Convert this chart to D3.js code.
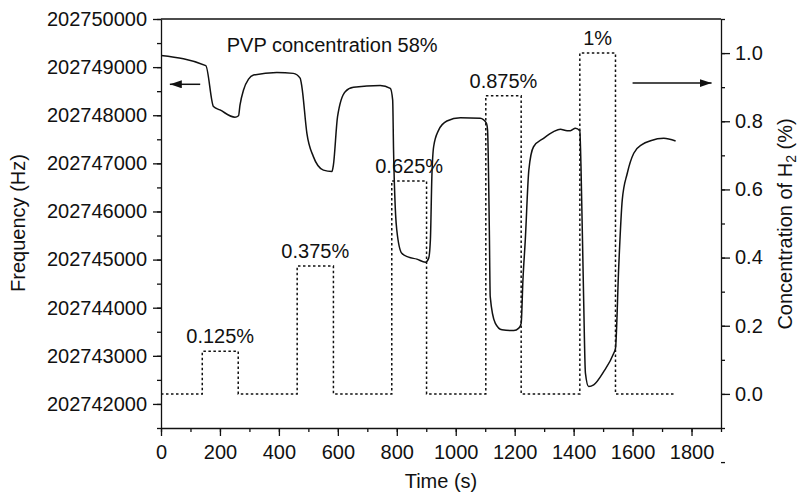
<!DOCTYPE html>
<html>
<head>
<meta charset="utf-8">
<script src="https://cdn.jsdelivr.net/npm/d3@7"></script>
<style>
    body { margin: 0; background: #fff; }
    text { font-family: "Liberation Sans", Arial, Helvetica, sans-serif; fill: #111; }
    .axis path, .axis line { stroke: #111; stroke-width: 1.3px; }
</style>
</head>
<body>
<div id="chart"></div>
<script>

// frequency trace (left axis) - time in s, frequency in Hz
const timeValues = [0, 152, 178, 200, 251, 263, 268, 280, 297, 314, 393, 449, 472, 478, 495, 517, 551, 580,
    585, 599, 625, 653, 744, 778, 786, 789, 796, 800, 817, 840, 868, 897, 908, 914, 919, 925, 942, 970,
    1016, 1083, 1104, 1108, 1114, 1117, 1134, 1157, 1197, 1214, 1222, 1228, 1236, 1248, 1264, 1298, 1332,
    1355, 1378, 1389, 1406, 1421, 1425, 1434, 1440, 1451, 1468, 1502, 1536, 1542, 1553, 1565, 1582, 1604,
    1633, 1661, 1706, 1746];
const freqValues = [202749240, 202749030, 202748180, 202748110, 202747960, 202747990, 202748210, 202748525,
    202748750, 202748835, 202748890, 202748870, 202748770, 202748590, 202747625, 202747140, 202746860, 202746830,
    202746970, 202747970, 202748490, 202748580, 202748620, 202748560, 202748320, 202747280, 202745930, 202745615,
    202745130, 202745050, 202745010, 202744945, 202745025, 202745410, 202746720, 202747345, 202747690, 202747880,
    202747950, 202747935, 202747835, 202747690, 202745615, 202744230, 202743680, 202743540, 202743525, 202743575,
    202743675, 202744575, 202745410, 202746860, 202747345, 202747520, 202747660, 202747710, 202747680, 202747680,
    202747730, 202747680, 202746930, 202744160, 202742640, 202742360, 202742395, 202742670, 202743055, 202743155,
    202744850, 202746240, 202746795, 202747210, 202747395, 202747470, 202747520, 202747465];

// H2 pulses (right axis)
const pulseStart = [140, 462, 783, 1102, 1421];
const pulseEnd = [262, 585, 901, 1222, 1542];
const pulseLevel = [0.125, 0.375, 0.625, 0.875, 1.0];
const pulseLabels = ["0.125%", "0.375%", "0.625%", "0.875%", "1%"];
const pulseEndTime = 1740;

// axes
const timeDomain = [0, 1900];
const timeTicks = [0, 200, 400, 600, 800, 1000, 1200, 1400, 1600, 1800];
const freqDomain = [202741500, 202750000];
const freqTicks = [202742000, 202743000, 202744000, 202745000, 202746000, 202747000, 202748000, 202749000, 202750000];
const concDomain = [-0.1, 1.1];
const concTicks = [0.0, 0.2, 0.4, 0.6, 0.8, 1.0];

const titleText = "PVP concentration 58%";


class freqVis {
    constructor(parentElement) {
        this.parentElement = parentElement;
        this.initVis();
    }

    initVis() {
        let vis = this;

        vis.margin = {top: 19, right: 78, bottom: 65, left: 161};
        vis.width = 799 - vis.margin.left - vis.margin.right;
        vis.height = 493 - vis.margin.top - vis.margin.bottom;

        vis.svg = d3.select("#" + vis.parentElement).append("svg")
            .attr("width", 799)
            .attr("height", 493)
            .append("g")
            .attr("transform", `translate(${vis.margin.left}, ${vis.margin.top})`);

        vis.x = d3.scaleLinear().domain(timeDomain).range([0, vis.width]);
        vis.yLeft = d3.scaleLinear().domain(freqDomain).range([vis.height, 0]);
        vis.yRight = d3.scaleLinear().domain(concDomain).range([vis.height, 0]);

        vis.wrangleData();
    }

    wrangleData() {
        let vis = this;

        vis.trace = timeValues.map((t, i) => ({t: t, f: freqValues[i]}));

        // step function built from the pulses
        vis.steps = [{t: 0, c: 0}];
        pulseStart.forEach((s, i) => {
            vis.steps.push({t: s, c: 0});
            vis.steps.push({t: s, c: pulseLevel[i]});
            vis.steps.push({t: pulseEnd[i], c: pulseLevel[i]});
            vis.steps.push({t: pulseEnd[i], c: 0});
        });
        vis.steps.push({t: pulseEndTime, c: 0});

        vis.updateVis();
    }

    updateVis() {
        let vis = this;

        // minor ticks first
        let minorX = d3.range(0, 1901, 100);
        let minorL = d3.range(freqDomain[0], freqDomain[1] + 1, 500);
        let minorR = d3.range(-10, 11.5, 1).map(d => d / 10);

        vis.svg.append("g").attr("class", "axis")
            .attr("transform", `translate(0, ${vis.height})`)
            .call(d3.axisBottom(vis.x).tickValues(minorX).tickSize(4).tickFormat(""))
            .call(g => g.select(".domain").remove());
        vis.svg.append("g").attr("class", "axis")
            .call(d3.axisLeft(vis.yLeft).tickValues(minorL).tickSize(4).tickFormat(""))
            .call(g => g.select(".domain").remove());
        vis.svg.append("g").attr("class", "axis")
            .attr("transform", `translate(${vis.width}, 0)`)
            .call(d3.axisRight(vis.yRight).tickValues(minorR).tickSize(4).tickFormat(""))
            .call(g => g.select(".domain").remove());

        // major axes
        vis.svg.append("g").attr("class", "axis")
            .attr("transform", `translate(0, ${vis.height})`)
            .call(d3.axisBottom(vis.x).tickValues(timeTicks).tickSize(8).tickSizeOuter(0).tickPadding(9).tickFormat(d3.format("d")))
            .selectAll("text").style("font-size", "20px");

        vis.svg.append("g").attr("class", "axis")
            .call(d3.axisLeft(vis.yLeft).tickValues(freqTicks).tickSize(8).tickSizeOuter(0).tickPadding(6).tickFormat(d3.format("d")))
            .selectAll("text").style("font-size", "20px");

        vis.svg.append("g").attr("class", "axis")
            .attr("transform", `translate(${vis.width}, 0)`)
            .call(d3.axisRight(vis.yRight).tickValues(concTicks).tickSize(9).tickSizeOuter(0).tickPadding(5).tickFormat(d3.format(".1f")))
            .selectAll("text").style("font-size", "20px");

        // top frame line
        vis.svg.append("line")
            .attr("x1", 0).attr("x2", vis.width)
            .attr("y1", 0).attr("y2", 0)
            .attr("stroke", "#111").attr("stroke-width", 1.3);

        // dotted H2 steps
        vis.svg.append("path")
            .datum(vis.steps)
            .attr("fill", "none")
            .attr("stroke", "#111")
            .attr("stroke-width", 1.5)
            .attr("stroke-dasharray", "2.5,2.5")
            .attr("d", d3.line().x(d => vis.x(d.t)).y(d => vis.yRight(d.c)));

        // frequency trace
        vis.svg.append("path")
            .datum(vis.trace)
            .attr("fill", "none")
            .attr("stroke", "#111")
            .attr("stroke-width", 1.5)
            .attr("d", d3.line().curve(d3.curveMonotoneX).x(d => vis.x(d.t)).y(d => vis.yLeft(d.f)));

        // pulse labels
        vis.svg.append("g").selectAll("text")
            .data(pulseLabels)
            .enter().append("text")
            .attr("x", (d, i) => vis.x((pulseStart[i] + pulseEnd[i]) / 2))
            .attr("y", (d, i) => vis.yRight(pulseLevel[i]) - 8)
            .attr("text-anchor", "middle")
            .style("font-size", "20px")
            .text(d => d);

        // title
        vis.svg.append("text")
            .attr("x", vis.x(223))
            .attr("y", vis.yLeft(202749320))
            .style("font-size", "20px")
            .text(titleText);

        // arrows
        let defs = vis.svg.append("defs");
        defs.append("marker")
            .attr("id", "head")
            .attr("viewBox", "0 0 12 8")
            .attr("refX", 12).attr("refY", 4)
            .attr("markerWidth", 12).attr("markerHeight", 8)
            .attr("markerUnits", "userSpaceOnUse")
            .attr("orient", "auto")
            .append("path").attr("d", "M0,0 L12,4 L0,8 Z").attr("fill", "#111");

        vis.svg.append("line")
            .attr("x1", vis.x(133)).attr("x2", vis.x(30))
            .attr("y1", vis.yLeft(202748643)).attr("y2", vis.yLeft(202748643))
            .attr("stroke", "#111").attr("stroke-width", 1.5)
            .attr("marker-end", "url(#head)");

        vis.svg.append("line")
            .attr("x1", vis.x(1600)).attr("x2", vis.x(1868))
            .attr("y1", vis.yRight(0.912)).attr("y2", vis.yRight(0.912))
            .attr("stroke", "#111").attr("stroke-width", 1.5)
            .attr("marker-end", "url(#head)");

        // axis titles
        vis.svg.append("text")
            .attr("x", vis.width / 2)
            .attr("y", vis.height + 60)
            .attr("text-anchor", "middle")
            .style("font-size", "20px")
            .text("Time (s)");

        vis.svg.append("text")
            .attr("transform", `translate(${25 - vis.margin.left}, ${223 - vis.margin.top}) rotate(-90)`)
            .attr("text-anchor", "middle")
            .style("font-size", "20px")
            .text("Frequency (Hz)");

        let rightTitle = vis.svg.append("text")
            .attr("transform", `translate(${792 - vis.margin.left}, ${224 - vis.margin.top}) rotate(-90)`)
            .attr("text-anchor", "middle")
            .style("font-size", "20px");
        rightTitle.append("tspan").text("Concentration of H");
        rightTitle.append("tspan").attr("dy", 4).style("font-size", "14px").text("2");
        rightTitle.append("tspan").attr("dy", -4).text(" (%)");
    }
}

new freqVis("chart");
</script>
</body>
</html>
